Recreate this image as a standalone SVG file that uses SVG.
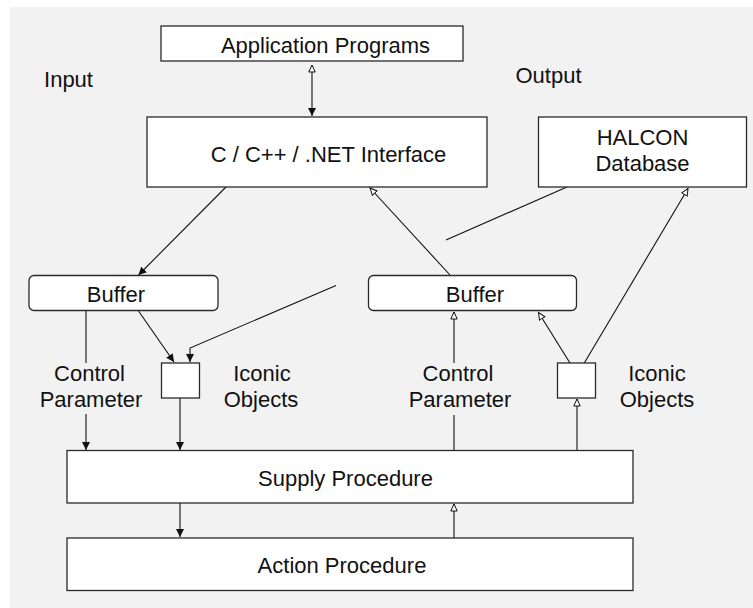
<svg xmlns="http://www.w3.org/2000/svg" width="753" height="608" viewBox="0 0 753 608">
<defs>
<style>
.box{fill:#fff;stroke:#2a2a2a;stroke-width:1.3}
.t{font-family:"Liberation Sans",Arial,sans-serif;font-size:22px;fill:#111;text-anchor:middle}
.c{fill:none;stroke:#111;stroke-width:1.1}
</style>
<marker id="fa" markerUnits="userSpaceOnUse" markerWidth="10" markerHeight="10" refX="8" refY="4" orient="auto">
<path d="M0,0 L8,4 L0,8 Z" fill="#111"/>
</marker>
<marker id="ha" markerUnits="userSpaceOnUse" markerWidth="10" markerHeight="10" refX="7.5" refY="4" orient="auto">
<path d="M0.5,0.8 L7.5,4 L0.5,7.2 Z" fill="#fff" stroke="#111" stroke-width="1"/>
</marker>
<marker id="hs" markerUnits="userSpaceOnUse" markerWidth="10" markerHeight="10" refX="7.5" refY="4" orient="auto-start-reverse">
<path d="M0.5,0.8 L7.5,4 L0.5,7.2 Z" fill="#fff" stroke="#111" stroke-width="1"/>
</marker>
</defs>
<rect x="10" y="7" width="743" height="601" fill="#f2f2f2"/>
<g id="connectors">
<path class="c" d="M312,65 L312,116" marker-start="url(#hs)" marker-end="url(#fa)"/>
<path class="c" d="M226,187 L138.5,275" marker-end="url(#fa)"/>
<path class="c" d="M450,275 L370,188" marker-end="url(#ha)"/>
<path class="c" d="M567,187 L446,240"/>
<path class="c" d="M336,285.5 L190,348 L190,362" marker-end="url(#fa)"/>
<path class="c" d="M138.5,311 L174,362" marker-end="url(#fa)"/>
<path class="c" d="M86,311 L86,363"/>
<path class="c" d="M86,414 L86,450" marker-end="url(#fa)"/>
<path class="c" d="M180,398 L180,450" marker-end="url(#fa)"/>
<path class="c" d="M180,503 L180,537" marker-end="url(#fa)"/>
<path class="c" d="M454,538 L454,504" marker-end="url(#ha)"/>
<path class="c" d="M454,450 L454,415"/>
<path class="c" d="M454,363 L454,312" marker-end="url(#ha)"/>
<path class="c" d="M577,450 L577,399" marker-end="url(#ha)"/>
<path class="c" d="M570,363 L538.5,312.5" marker-end="url(#ha)"/>
<path class="c" d="M584.3,363 L688,188.5" marker-end="url(#ha)"/>
</g>
<g id="app"><rect class="box" x="161" y="26" width="302" height="35"/><text class="t" x="325.5" y="52.5">Application Programs</text></g>
<g id="input-label"><text class="t" x="68.5" y="87">Input</text></g>
<g id="output-label"><text class="t" x="548.5" y="83.3">Output</text></g>
<g id="interface"><rect class="box" x="147" y="117" width="340" height="70"/><text class="t" x="328.5" y="162">C / C++ / .NET Interface</text></g>
<g id="halcon"><rect class="box" x="538.5" y="117" width="208" height="70"/><text class="t" x="642.5" y="145">HALCON</text><text class="t" x="642.5" y="171">Database</text></g>
<g id="buffer-in"><rect class="box" x="29" y="275.5" width="189" height="35" rx="5"/><text class="t" x="116" y="301.7">Buffer</text></g>
<g id="buffer-out"><rect class="box" x="368.5" y="275.5" width="208" height="35" rx="5"/><text class="t" x="475" y="301.7">Buffer</text></g>
<g id="ctrl-in"><text class="t" x="89.5" y="381">Control</text><text class="t" x="91" y="407">Parameter</text></g>
<g id="iconic-in"><rect class="box" x="161.5" y="363" width="38" height="35"/><text class="t" x="262" y="381">Iconic</text><text class="t" x="261" y="407">Objects</text></g>
<g id="ctrl-out"><text class="t" x="458" y="381">Control</text><text class="t" x="460" y="407">Parameter</text></g>
<g id="iconic-out"><rect class="box" x="557.5" y="363" width="38" height="35"/><text class="t" x="657" y="381">Iconic</text><text class="t" x="657" y="407">Objects</text></g>
<g id="supply"><rect class="box" x="67" y="450.5" width="566" height="52.5"/><text class="t" x="345.5" y="486">Supply Procedure</text></g>
<g id="action"><rect class="box" x="67" y="538" width="566" height="52.5"/><text class="t" x="342" y="572.7">Action Procedure</text></g>
</svg>
